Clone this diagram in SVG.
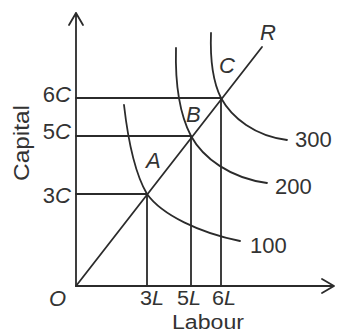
<svg xmlns="http://www.w3.org/2000/svg" width="337" height="334" viewBox="0 0 337 334">
<style>
.ln{fill:none;stroke:#2b2b2b;stroke-width:1.8;stroke-linecap:round;stroke-linejoin:round}
.t{font-family:"Liberation Sans",Arial,sans-serif;font-size:22px;fill:#333}
.s{font-size:20px}
.i{font-style:italic}
</style>
<rect width="337" height="334" fill="#fff"/>
<g id="axes" class="ln">
<path d="M76,286 V13 M69,25 L76,13 L83,25"/>
<path d="M76,286 H334 M322,279 L334,286 L322,293"/>
</g>
<g id="connectors" class="ln">
<path id="ray" d="M76,286 L262,47"/>
<path d="M76,98 H221 V286 M76,136 H191 V286 M76,194 H147 V286"/>
</g>
<g id="iso100"><path class="ln" d="M124,105 C128,140 134,172 147,194 C162,215 200,233 240,241"/><text class="t" x="250" y="253">100</text></g>
<g id="iso200"><path class="ln" d="M176,48 C175,85 180,115 191,136 C203,158 230,178 267,183"/><text class="t" x="275" y="194">200</text></g>
<g id="iso300"><path class="ln" d="M211,33 C210,60 213,82 221,98 C232,118 255,136 287,140"/><text class="t" x="295" y="147">300</text></g>
<g id="labels">
<text class="t i" x="260" y="40">R</text>
<text class="t i" x="219" y="73">C</text>
<text class="t i" x="186" y="122">B</text>
<text class="t i" x="146" y="168">A</text>
<text class="t" x="71" y="102" text-anchor="end">6<tspan class="i">C</tspan></text>
<text class="t" x="71" y="139" text-anchor="end">5<tspan class="i">C</tspan></text>
<text class="t" x="71" y="203" text-anchor="end">3<tspan class="i">C</tspan></text>
<text class="t i" x="49" y="306">O</text>
<text class="t s" x="152" y="305" text-anchor="middle" textLength="24" lengthAdjust="spacingAndGlyphs">3<tspan class="i">L</tspan></text>
<text class="t s" x="189" y="305" text-anchor="middle" textLength="24" lengthAdjust="spacingAndGlyphs">5<tspan class="i">L</tspan></text>
<text class="t s" x="224" y="305" text-anchor="middle" textLength="24" lengthAdjust="spacingAndGlyphs">6<tspan class="i">L</tspan></text>
<text class="t s" x="208" y="329" text-anchor="middle" textLength="72" lengthAdjust="spacingAndGlyphs">Labour</text>
<text class="t" transform="translate(29,143) rotate(-90)" text-anchor="middle" textLength="76" lengthAdjust="spacingAndGlyphs">Capital</text>
</g>
</svg>
